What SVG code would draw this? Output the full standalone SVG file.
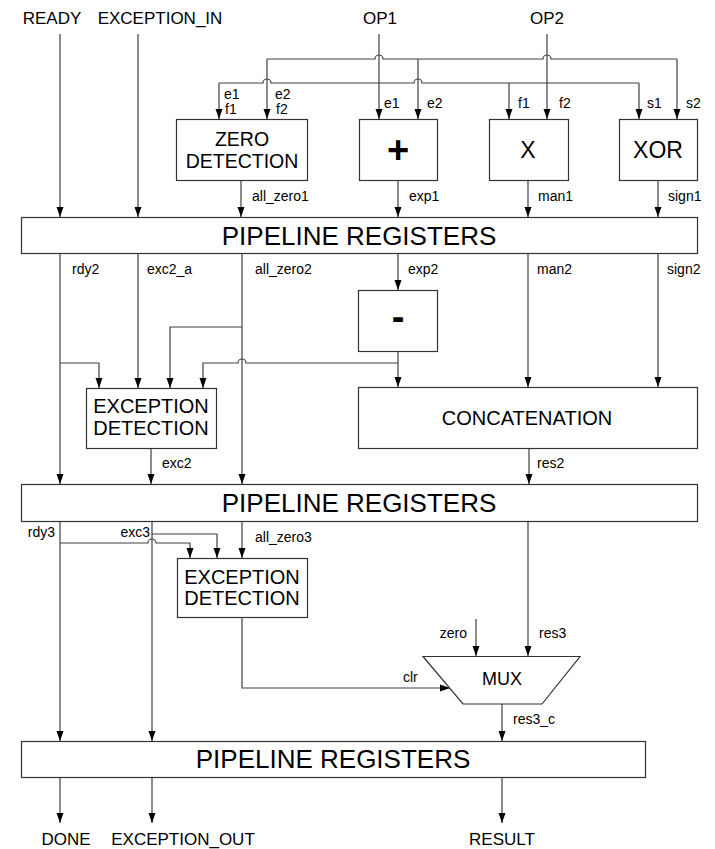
<svg xmlns="http://www.w3.org/2000/svg" width="715" height="849" viewBox="0 0 715 849">
<style>
text{font-family:"Liberation Sans",Arial,sans-serif;fill:#000}
.io{font-size:17px;text-anchor:middle}
.sm{font-size:14px}
.bx{font-size:20px;text-anchor:middle}
.pr{font-size:26px;text-anchor:middle}
.box{fill:#fff;stroke:#333;stroke-width:1.2}
.ln{fill:none;stroke:#404040;stroke-width:1.2}
.ar{fill:none;stroke:#404040;stroke-width:1.2;marker-end:url(#ah)}
</style>
<defs>
<marker id="ah" markerUnits="userSpaceOnUse" markerWidth="10" markerHeight="8" refX="10" refY="4" orient="auto">
<path d="M0,0.5 L10,4 L0,7.5 z" fill="#000"/>
</marker>
</defs>
<rect width="715" height="849" fill="#fff"/>

<g id="connectors">
<!-- inputs -->
<path class="ar" d="M60,34 V217"/>
<path class="ar" d="M138,34 V217"/>
<path class="ar" d="M379,34 V119"/>
<path class="ar" d="M547,34 V119"/>
<!-- upper bus -->
<path class="ln" d="M267,59 H375 A4,4 0 0 1 383,59 H543 A4,4 0 0 1 551,59 H677"/>
<path class="ar" d="M267,59 V119"/>
<path class="ar" d="M418,59 V119"/>
<path class="ar" d="M677,59 V119"/>
<!-- lower bus -->
<path class="ln" d="M219,83 H263 A4,4 0 0 1 271,83 H414 A4,4 0 0 1 422,83 H639"/>
<path class="ar" d="M219,83 V119"/>
<path class="ar" d="M509,83 V119"/>
<path class="ar" d="M639,83 V119"/>
<!-- stage 1 outputs -->
<path class="ar" d="M241,181 V217"/>
<path class="ar" d="M398,181 V217"/>
<path class="ar" d="M528,181 V217"/>
<path class="ar" d="M658,181 V217"/>
<!-- stage 2 -->
<path class="ar" d="M60,254 V484"/>
<path class="ar" d="M60,363 H99 V388"/>
<path class="ar" d="M138,254 V388"/>
<path class="ar" d="M242,254 V484"/>
<path class="ar" d="M242,327 H170 V388"/>
<path class="ar" d="M398,254 V290"/>
<path class="ar" d="M398,351 V387"/>
<path class="ar" d="M398,363 H246 A4,4 0 0 0 238,363 H203 V388"/>
<path class="ar" d="M528,254 V387"/>
<path class="ar" d="M658,254 V387"/>
<path class="ar" d="M151,448 V484"/>
<path class="ar" d="M529,448 V484"/>
<!-- stage 3 -->
<path class="ar" d="M60,522 V741"/>
<path class="ar" d="M60,543 H148 A4,4 0 0 1 156,543 H190 V558"/>
<path class="ar" d="M152,522 V741"/>
<path class="ar" d="M152,534 H217 V558"/>
<path class="ar" d="M242,522 V558"/>
<path class="ar" d="M242,618 V688 H450"/>
<path class="ar" d="M476,619 V656"/>
<path class="ar" d="M528,522 V656"/>
<path class="ar" d="M502,704 V741"/>
<!-- outputs -->
<path class="ar" d="M60,777 V823"/>
<path class="ar" d="M152,777 V823"/>
<path class="ar" d="M502,777 V823"/>
</g>

<g id="labels">
<text class="io" x="52" y="24">READY</text>
<text class="io" x="160" y="24">EXCEPTION_IN</text>
<text class="io" x="380" y="24">OP1</text>
<text class="io" x="547" y="24">OP2</text>
<text class="sm" x="224" y="99">e1</text>
<text class="sm" x="225" y="114">f1</text>
<text class="sm" x="275" y="99">e2</text>
<text class="sm" x="276" y="114">f2</text>
<text class="sm" x="384" y="108">e1</text>
<text class="sm" x="427" y="108">e2</text>
<text class="sm" x="518" y="108">f1</text>
<text class="sm" x="559" y="108">f2</text>
<text class="sm" x="647" y="108">s1</text>
<text class="sm" x="686" y="108">s2</text>
<text class="sm" x="252" y="201">all_zero1</text>
<text class="sm" x="409" y="201">exp1</text>
<text class="sm" x="538" y="201">man1</text>
<text class="sm" x="668" y="201">sign1</text>
<text class="sm" x="72" y="274">rdy2</text>
<text class="sm" x="147" y="274">exc2_a</text>
<text class="sm" x="255" y="274">all_zero2</text>
<text class="sm" x="408" y="274">exp2</text>
<text class="sm" x="537" y="274">man2</text>
<text class="sm" x="667" y="274">sign2</text>
<text class="sm" x="162" y="468">exc2</text>
<text class="sm" x="537" y="468">res2</text>
<text class="sm" x="55" y="537" text-anchor="end">rdy3</text>
<text class="sm" x="150" y="537" text-anchor="end">exc3</text>
<text class="sm" x="255" y="542">all_zero3</text>
<text class="sm" x="467" y="638" text-anchor="end">zero</text>
<text class="sm" x="539" y="638">res3</text>
<text class="sm" x="403" y="682">clr</text>
<text class="sm" x="513" y="724">res3_c</text>
<text class="io" x="66" y="845">DONE</text>
<text class="io" x="183" y="845">EXCEPTION_OUT</text>
<text class="io" x="502" y="845">RESULT</text>
</g>

<g id="zero_detection">
<rect class="box" x="176.5" y="119.5" width="131" height="61"/>
<text class="bx" x="242" y="146" style="font-size:19.5px">ZERO</text>
<text class="bx" x="242" y="168" style="font-size:19.5px">DETECTION</text>
</g>
<g id="adder">
<rect class="box" x="359.5" y="119.5" width="78" height="61"/>
<text class="bx" x="398" y="163" style="font-size:38px;font-weight:bold">+</text>
</g>
<g id="multiplier">
<rect class="box" x="489.5" y="119.5" width="79" height="61"/>
<text class="bx" x="528" y="158" style="font-size:23px">X</text>
</g>
<g id="xor">
<rect class="box" x="619.5" y="119.5" width="78" height="61"/>
<text class="bx" x="658" y="158" style="font-size:23px">XOR</text>
</g>
<g id="pipeline1">
<rect class="box" x="21.5" y="217.5" width="676" height="36"/>
<text class="pr" x="359" y="245">PIPELINE REGISTERS</text>
</g>
<g id="subtractor">
<rect class="box" x="358.5" y="290.5" width="79" height="61"/>
<text class="bx" x="398" y="330" style="font-size:38px;font-weight:bold">-</text>
</g>
<g id="exception_detection1">
<rect class="box" x="86.5" y="388.5" width="130" height="60"/>
<text class="bx" x="151" y="413">EXCEPTION</text>
<text class="bx" x="151" y="435">DETECTION</text>
</g>
<g id="concatenation">
<rect class="box" x="358.5" y="387.5" width="339" height="61"/>
<text class="bx" x="527" y="425">CONCATENATION</text>
</g>
<g id="pipeline2">
<rect class="box" x="21.5" y="484.5" width="676" height="37"/>
<text class="pr" x="359" y="512">PIPELINE REGISTERS</text>
</g>
<g id="exception_detection2">
<rect class="box" x="177.5" y="558.5" width="130" height="59"/>
<text class="bx" x="242" y="584">EXCEPTION</text>
<text class="bx" x="242" y="605">DETECTION</text>
</g>
<g id="mux">
<polygon class="box" points="423,656.5 580,656.5 542,704 463,704"/>
<text class="bx" x="502" y="685" style="font-size:18px">MUX</text>
</g>
<g id="pipeline3">
<rect class="box" x="21.5" y="741.5" width="624" height="36"/>
<text class="pr" x="333" y="768">PIPELINE REGISTERS</text>
</g>
</svg>
